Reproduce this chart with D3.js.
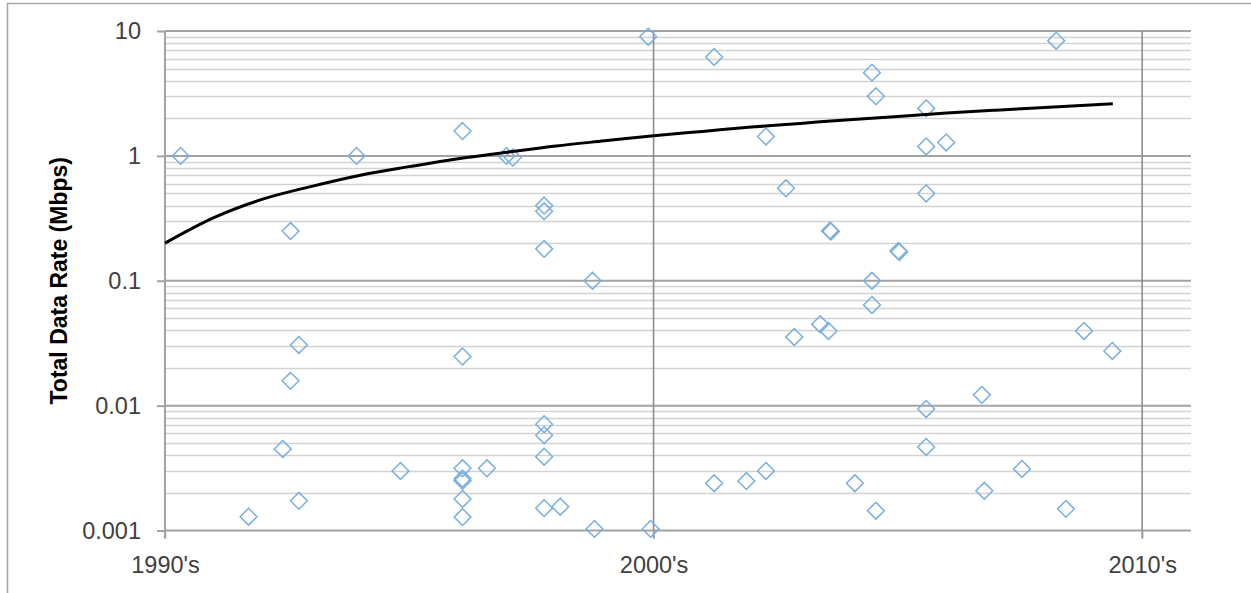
<!DOCTYPE html>
<html>
<head>
<meta charset="utf-8">
<script src="https://cdn.jsdelivr.net/npm/d3@7"></script>
<style>
  html, body { margin: 0; padding: 0; background: #ffffff; }
  svg { display: block; }
</style>
</head>
<body>
<svg id="chart" width="1251" height="593"></svg>
<script>
// ---- data ----
const pointYears = [
  1990.32, 1991.71, 1992.41, 1992.57, 1992.57, 1992.74, 1992.74, 1993.92, 1994.82,
  1996.09, 1996.09, 1996.09, 1996.09, 1996.09, 1996.09, 1996.09, 1996.59,
  1996.99, 1997.12, 1997.76, 1997.76, 1997.76, 1997.76, 1997.76, 1997.76, 1997.76,
  1998.09, 1998.75, 1998.79, 1999.89, 1999.94,
  2001.24, 2001.24, 2001.90, 2002.30, 2002.30, 2002.71, 2002.88, 2003.41, 2003.58,
  2003.61, 2003.63, 2004.12, 2004.47, 2004.55, 2004.47, 2004.47, 2004.55,
  2005.01, 2005.03, 2005.58, 2005.58, 2005.58, 2005.58, 2005.58, 2005.99,
  2006.72, 2006.77, 2007.54, 2008.24, 2008.44, 2008.81, 2009.39
];
const pointRates = [
  1.0, 0.00129, 0.0045, 0.25, 0.0158, 0.0306, 0.00173, 1.0, 0.0030,
  1.58, 0.0247, 0.00315, 0.0026, 0.0025, 0.00179, 0.00128, 0.00315,
  1.0, 0.97, 0.40, 0.36, 0.18, 0.0071, 0.0058, 0.0039, 0.00151,
  0.00155, 0.10, 0.00103, 9.0, 0.00103,
  6.2, 0.00239, 0.00249, 1.43, 0.0030, 0.55, 0.0355, 0.0449, 0.0396,
  0.252, 0.248, 0.00239, 4.64, 3.0, 0.10, 0.064, 0.00144,
  0.173, 0.170, 2.4, 1.19, 0.50, 0.0094, 0.00467, 1.28,
  0.0122, 0.00208, 0.00311, 8.36, 0.00149, 0.0396, 0.0274
];
// trend line
const trendYears = [1990.0, 1991.0, 1992.0, 1993.0, 1994.0, 1995.0, 1996.0, 1997.0, 1998.0, 1999.0,
                    2000.0, 2001.0, 2002.0, 2003.0, 2004.0, 2005.0, 2006.0, 2007.0, 2008.0, 2009.4];
const trendRates = [0.20, 0.32, 0.45, 0.57, 0.70, 0.82, 0.95, 1.07, 1.20, 1.32,
                    1.45, 1.57, 1.70, 1.82, 1.95, 2.07, 2.20, 2.32, 2.44, 2.62];
const yTickValues = [0.001, 0.01, 0.1, 1, 10];
const yTickLabels = ["0.001", "0.01", "0.1", "1", "10"];
const xTickValues = [1990, 2000, 2010];
const xTickLabels = ["1990's", "2000's", "2010's"];
const yTitle = "Total Data Rate (Mbps)";

// ---- layout ----
const svg = d3.select("#chart");
const pLeft = 165, pRight = 1191, pTop = 31, pBottom = 530.5;
const x = d3.scaleLinear().domain([1990, 2011]).range([pLeft, pRight]);
const y = d3.scaleLog().domain([0.001, 10]).range([pBottom, pTop]);

// outer frame
svg.append("rect").attr("x", 7.5).attr("y", 3.5).attr("width", 1400).attr("height", 800)
  .attr("fill", "none").attr("stroke", "#a6a6a6").attr("stroke-width", 1.5);

// minor gridlines
const minorVals = [];
yTickValues.slice(0, -1).forEach(d => { for (let k = 2; k <= 9; k++) minorVals.push(d * k); });
svg.append("g").selectAll("line").data(minorVals).join("line")
  .attr("x1", pLeft).attr("x2", pRight)
  .attr("y1", d => Math.round(y(d)) + 0.5).attr("y2", d => Math.round(y(d)) + 0.5)
  .attr("stroke", "#d2d2d2").attr("stroke-width", 1.6);

// major gridlines
svg.append("g").selectAll("line").data(yTickValues).join("line")
  .attr("x1", pLeft).attr("x2", pRight)
  .attr("y1", d => y(d)).attr("y2", d => y(d))
  .attr("stroke", "#a3a3a3").attr("stroke-width", 2);

// vertical gridlines (plus ticks below axis)
svg.append("g").selectAll("line").data(xTickValues.slice(1)).join("line")
  .attr("x1", d => x(d)).attr("x2", d => x(d))
  .attr("y1", pTop).attr("y2", pBottom + 8)
  .attr("stroke", "#8e8e8e").attr("stroke-width", 1.6);

// y axis
const yAxis = d3.axisLeft(y).tickValues(yTickValues)
  .tickFormat((d, i) => yTickLabels[i]).tickSize(8).tickPadding(16);
const gy = svg.append("g").attr("transform", `translate(${pLeft},0)`).call(yAxis);
gy.select(".domain").remove();
gy.selectAll(".tick line").attr("stroke", "#a3a3a3").attr("stroke-width", 2);
gy.selectAll(".tick text").attr("fill", "#404040")
  .style("font-family", "'Liberation Sans', Arial, sans-serif").style("font-size", "23.5px");
svg.append("line").attr("x1", pLeft).attr("x2", pLeft).attr("y1", pTop).attr("y2", pBottom + 8)
  .attr("stroke", "#a3a3a3").attr("stroke-width", 2);

// x axis labels
const xAxis = d3.axisBottom(x).tickValues(xTickValues)
  .tickFormat((d, i) => xTickLabels[i]).tickSize(8).tickPadding(18);
const gx = svg.append("g").attr("transform", `translate(0,${pBottom})`).call(xAxis);
gx.select(".domain").remove();
gx.selectAll(".tick line").attr("stroke", "#a3a3a3").attr("stroke-width", 1.6);
gx.selectAll(".tick text").attr("fill", "#404040")
  .style("font-family", "'Liberation Sans', Arial, sans-serif").style("font-size", "23.5px");

// y title
svg.append("text")
  .attr("transform", `translate(67,${(pTop + pBottom) / 2}) rotate(-90)`)
  .attr("text-anchor", "middle")
  .attr("fill", "#000")
  .style("font-family", "'Liberation Sans', Arial, sans-serif")
  .style("font-weight", "bold").style("font-size", "23px")
  .text(yTitle);

// points
const pts = pointYears.map((d, i) => ({ yr: d, v: pointRates[i] }));
const diamond = d3.symbol().type(d3.symbolDiamond2).size(180);
svg.append("g").selectAll("path").data(pts).join("path")
  .attr("d", diamond)
  .attr("transform", d => `translate(${x(d.yr)},${y(d.v)})`)
  .attr("fill", "none").attr("stroke", "#7aaee0").attr("stroke-width", 1.5);

// trend line
const trend = trendYears.map((d, i) => ({ yr: d, v: trendRates[i] }));
svg.append("path").datum(trend)
  .attr("d", d3.line().x(d => x(d.yr)).y(d => y(d.v)).curve(d3.curveMonotoneX))
  .attr("fill", "none").attr("stroke", "#000").attr("stroke-width", 3);
</script>
</body>
</html>
